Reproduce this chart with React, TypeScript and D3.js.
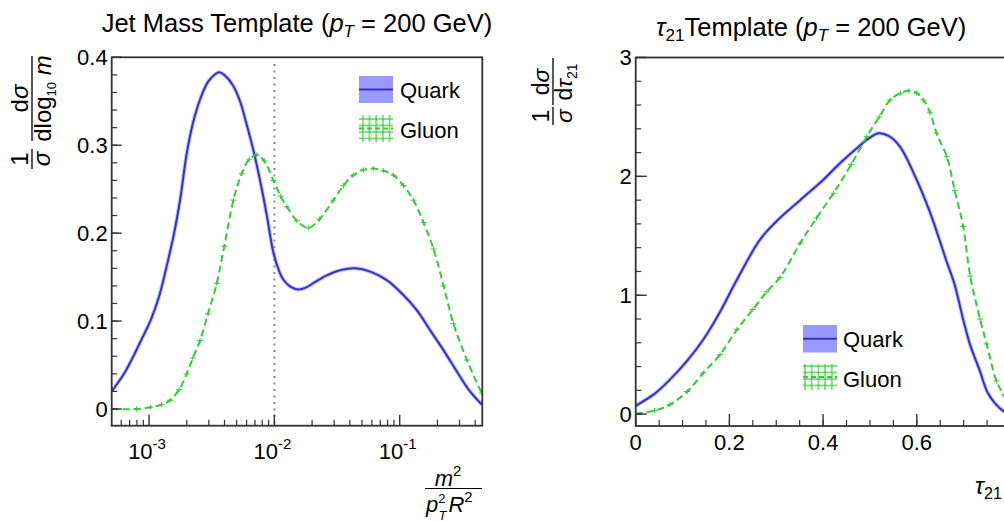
import React from "react";
import * as d3 from "d3";

// ---------- Jet mass template (x stored as log10(m^2 / pT^2 R^2)) ----------
const massLogX = [
  -3.298, -3.2, -3.125, -3.05, -2.99, -2.92, -2.86, -2.8, -2.75, -2.7, -2.65, -2.593,
  -2.53, -2.47, -2.44, -2.4, -2.33, -2.274, -2.22, -2.167, -2.11, -2.06, -2.008, -1.96,
  -1.928, -1.87, -1.808, -1.75, -1.68, -1.582, -1.47, -1.356, -1.23, -1.103, -0.98,
  -0.864, -0.75, -0.651, -0.55, -0.45, -0.345,
];
const massQuark = [
  0.02, 0.04, 0.06, 0.082, 0.1, 0.128, 0.162, 0.2, 0.24, 0.29, 0.325, 0.352,
  0.372, 0.381, 0.383, 0.38, 0.368, 0.35, 0.323, 0.294, 0.257, 0.22, 0.178, 0.156,
  0.147, 0.139, 0.136, 0.138, 0.144, 0.152, 0.158, 0.16, 0.156, 0.1466, 0.131,
  0.1125, 0.088, 0.067, 0.044, 0.022, 0.005,
];
const massGluonLogX = [
  -3.298, -3.1, -2.99, -2.9, -2.832, -2.76, -2.7, -2.65, -2.593, -2.53, -2.46, -2.4,
  -2.327, -2.26, -2.2, -2.14, -2.08, -2.008, -1.95, -1.9, -1.82, -1.729, -1.64, -1.529,
  -1.45, -1.37, -1.29, -1.21, -1.13, -1.05, -0.97, -0.89, -0.81, -0.73, -0.65, -0.571,
  -0.464, -0.345,
];
const massGluon = [
  0.0, 0.0, 0.002, 0.005, 0.01, 0.022, 0.04, 0.058, 0.078, 0.108, 0.143, 0.185,
  0.2375, 0.268, 0.284, 0.289, 0.282, 0.26, 0.242, 0.23, 0.214, 0.206, 0.216, 0.2375,
  0.254, 0.266, 0.272, 0.2735, 0.271, 0.266, 0.254, 0.2375, 0.212, 0.182, 0.14, 0.097,
  0.0557, 0.018,
];
const massYTicks = [0, 0.1, 0.2, 0.3, 0.4];
const massXTickExp = [-3, -2, -1];
const massCutX = 0.01;

// ---------- tau21 template ----------
const tauQuarkX = [
  0.0, 0.04, 0.073, 0.11, 0.144, 0.18, 0.216, 0.265, 0.3, 0.351, 0.4, 0.436, 0.47,
  0.493, 0.518, 0.54, 0.564, 0.593, 0.628, 0.664, 0.68, 0.7, 0.714, 0.735, 0.75, 0.765,
  0.785, 0.8, 0.85, 1.0,
];
const tauQuark = [
  0.07, 0.17, 0.29, 0.45, 0.626, 0.86, 1.13, 1.466, 1.62, 1.8, 1.97, 2.11, 2.23,
  2.307, 2.363, 2.34, 2.25, 2.03, 1.7, 1.28, 1.1, 0.78, 0.58, 0.36, 0.19, 0.1,
  0.025, 0.005, 0.0, 0.0,
];
const tauGluonX = [
  0.0, 0.04, 0.073, 0.11, 0.144, 0.18, 0.216, 0.25, 0.28, 0.308, 0.351, 0.386, 0.422,
  0.46, 0.493, 0.52, 0.543, 0.565, 0.582, 0.6, 0.614, 0.628, 0.642, 0.664, 0.681, 0.699,
  0.714, 0.735, 0.749, 0.77, 0.786, 0.8, 0.83, 0.87, 1.0,
];
const tauGluon = [
  0.004, 0.03, 0.08, 0.19, 0.346, 0.5, 0.71, 0.88, 1.03, 1.15, 1.438, 1.65, 1.858,
  2.1, 2.334, 2.5, 2.643, 2.7, 2.72, 2.7, 2.643, 2.54, 2.363, 2.166, 1.88, 1.578,
  1.16, 0.8, 0.59, 0.28, 0.16, 0.09, 0.03, 0.005, 0.0,
];
const tauYTicks = [0, 1, 2, 3];
const tauXTicks = [0, 0.2, 0.4, 0.6, 0.8, 1.0];
const tauXTickLabels = ["0", "0.2", "0.4", "0.6"];

const BLUE = "#3333cc";
const BAND = "#9999ff";
const GREEN = "#33cc33";
const FRAME = "#333";
const FONT = "'Liberation Sans', Arial, Helvetica, sans-serif";

export default function App() {
  const W = 1004;
  const H = 522;

  const xL = d3.scaleLog().domain([Math.pow(10, -3.298), Math.pow(10, -0.341)]).range([111.7, 482.3]);
  const yL = d3.scaleLinear().domain([-0.019, 0.4]).range([425.7, 57.3]);
  const xR = d3.scaleLinear().domain([0, 1]).range([635.7, 1104.2]);
  const yR = d3.scaleLinear().domain([-0.1, 3]).range([426, 57.5]);

  const curve = d3.curveCatmullRom.alpha(0.5);
  const lineL = d3
    .line<[number, number]>()
    .x((d) => xL(Math.pow(10, d[0])))
    .y((d) => yL(d[1]))
    .curve(curve);
  const lineR = d3
    .line<[number, number]>()
    .x((d) => xR(d[0]))
    .y((d) => yR(d[1]))
    .curve(curve);

  const mq = massLogX.map((x, i) => [x, massQuark[i]] as [number, number]);
  const mg = massGluonLogX.map((x, i) => [x, massGluon[i]] as [number, number]);
  const tq = tauQuarkX.map((x, i) => [x, tauQuark[i]] as [number, number]);
  const tg = tauGluonX.map((x, i) => [x, tauGluon[i]] as [number, number]);

  const [lx0, lx1] = xL.range();
  const [lyB, lyT] = yL.range();
  const yMinorL = d3.range(0, 0.4001, 0.02);
  const xMinorL: number[] = [];
  for (let e = -4; e <= 0; e++) {
    for (let k = 2; k <= 9; k++) {
      const v = k * Math.pow(10, e);
      if (v >= xL.domain()[0] && v <= xL.domain()[1]) xMinorL.push(v);
    }
  }
  const [rx0, rx1] = xR.range();
  const [ryB, ryT] = yR.range();
  const yMinorR = d3.range(0, 3.0001, 0.2);
  const xMinorR = d3.range(0, 1.0001, 0.05);

  return (
    <svg
      width={W}
      height={H}
      viewBox={`0 0 ${W} ${H}`}
      style={{ position: "absolute", left: 0, top: 0, background: "#fff", fontFamily: FONT }}
    >
      <defs>
        <clipPath id="clipL">
          <rect x={lx0} y={lyT} width={lx1 - lx0} height={lyB - lyT} />
        </clipPath>
        <clipPath id="clipR">
          <rect x={rx0} y={ryT} width={rx1 - rx0} height={ryB - ryT} />
        </clipPath>
        <pattern id="gluonHatch" patternUnits="userSpaceOnUse" width="6.7" height="6.5" x="0" y="0">
          <line x1="1" y1="0" x2="1" y2="6.5" stroke={GREEN} strokeWidth="1.2" />
          <line x1="0" y1="2" x2="6.7" y2="2" stroke={GREEN} strokeWidth="1.2" />
        </pattern>
      </defs>
      <rect x={0} y={0} width={W} height={H} fill="#fff" />

      {/* ================= LEFT PANEL ================= */}
      <text x={101.7} y={32} fontSize={25.5} fill="#000">
        Jet Mass Template (<tspan fontStyle="italic">p</tspan>
        <tspan fontSize={17} dy={5} fontStyle="italic">T</tspan>
        <tspan dy={-5}> = 200 GeV)</tspan>
      </text>

      <g clipPath="url(#clipL)">
        <line
          x1={xL(massCutX)}
          x2={xL(massCutX)}
          y1={64}
          y2={lyB}
          stroke="#888"
          strokeWidth={2}
          strokeDasharray="2,4.5"
        />
        <path d={lineL(mq) || ""} fill="none" stroke={BAND} strokeWidth={4} strokeOpacity={0.6} />
        <path d={lineL(mq) || ""} fill="none" stroke={BLUE} strokeWidth={2} />
        <path d={lineL(mg) || ""} fill="none" stroke={GREEN} strokeWidth={2} strokeDasharray="7,4" />
        {mg.map((d, i) => (
          <g key={i} stroke={GREEN} strokeWidth={1}>
            <line x1={xL(Math.pow(10, d[0])) - 3} x2={xL(Math.pow(10, d[0])) + 3} y1={yL(d[1])} y2={yL(d[1])} />
            <line x1={xL(Math.pow(10, d[0]))} x2={xL(Math.pow(10, d[0]))} y1={yL(d[1]) - 2.5} y2={yL(d[1]) + 2.5} />
          </g>
        ))}
      </g>

      <rect x={lx0} y={lyT} width={lx1 - lx0} height={lyB - lyT} fill="none" stroke={FRAME} strokeWidth={1.8} />
      {yMinorL.map((v, i) => (
        <line key={"ym" + i} x1={lx0} x2={lx0 + 5.5} y1={yL(v)} y2={yL(v)} stroke={FRAME} strokeWidth={1.2} />
      ))}
      {massYTicks.map((v) => (
        <g key={"yl" + v}>
          <line x1={lx0} x2={lx0 + 10} y1={yL(v)} y2={yL(v)} stroke={FRAME} strokeWidth={1.4} />
          <text x={lx0 - 4} y={yL(v)} dy="0.36em" textAnchor="end" fontSize={22} fill="#000">
            {v === 0 ? "0" : v.toFixed(1)}
          </text>
        </g>
      ))}
      {xMinorL.map((v, i) => (
        <line key={"xm" + i} x1={xL(v)} x2={xL(v)} y1={lyB} y2={lyB - 6} stroke={FRAME} strokeWidth={1.2} />
      ))}
      {massXTickExp.map((e) => (
        <g key={"xl" + e}>
          <line x1={xL(Math.pow(10, e))} x2={xL(Math.pow(10, e))} y1={lyB} y2={lyB - 11} stroke={FRAME} strokeWidth={1.4} />
          <text x={xL(Math.pow(10, e)) - 2} y={459} textAnchor="middle" fontSize={22} fill="#000">
            10<tspan fontSize={15} dy={-10}>{"-" + String(-e)}</tspan>
          </text>
        </g>
      ))}
      {/* left x label */}
      <text x={448} y={486} textAnchor="middle" fontSize={22} fill="#000">
        <tspan fontStyle="italic">m</tspan>
        <tspan fontSize={15} dy={-10}>2</tspan>
      </text>
      <line x1={425} x2={482} y1={488.5} y2={488.5} stroke="#000" strokeWidth={1.2} />
      <text x={426} y={512} fontSize={22} fill="#000">
        <tspan fontStyle="italic">p</tspan>
        <tspan fontSize={13} dy={-9}>2</tspan>
        <tspan fontSize={13} fontStyle="italic" dx={-7} dy={17}>T</tspan>
        <tspan fontStyle="italic" dx={2} dy={-8}>R</tspan>
        <tspan fontSize={15} dy={-10}>2</tspan>
      </text>
      {/* left y label (rotated) */}
      <g transform="translate(0,170) rotate(-90)" fill="#000">
        <text x={11} y={28} textAnchor="middle" fontSize={24}>1</text>
        <line x1={1} x2={21} y1={32} y2={32} stroke="#000" strokeWidth={1.3} />
        <text x={11} y={50} textAnchor="middle" fontSize={24} fontStyle="italic">σ</text>
        <text x={71.5} y={28} textAnchor="middle" fontSize={24}>
          d<tspan fontStyle="italic">σ</tspan>
        </text>
        <line x1={29} x2={114} y1={32} y2={32} stroke="#000" strokeWidth={1.3} />
        <text x={71.5} y={51} textAnchor="middle" fontSize={24}>
          dlog<tspan fontSize={13} dy={5}>10</tspan>
          <tspan dy={-5} fontStyle="italic"> m</tspan>
        </text>
      </g>

      {/* left legend */}
      <rect x={359} y={76} width={34} height={27} fill={BAND} />
      <line x1={359} x2={393} y1={89.5} y2={89.5} stroke={BLUE} strokeWidth={2} />
      <text x={400} y={98} fontSize={22} fill="#000">Quark</text>
      <rect x={359} y={115} width={34} height={27} fill="url(#gluonHatch)" />
      <line x1={359} x2={393} y1={128.5} y2={128.5} stroke={GREEN} strokeWidth={2} strokeDasharray="5,3" />
      <text x={400} y={138} fontSize={22} fill="#000">Gluon</text>

      {/* ================= RIGHT PANEL ================= */}
      <text x={656} y={36} fontSize={25.5} fill="#000">
        <tspan fontStyle="italic">τ</tspan>
        <tspan fontSize={17} dy={5}>21</tspan>
        <tspan dy={-5}>Template (</tspan>
        <tspan fontStyle="italic">p</tspan>
        <tspan fontSize={17} dy={5} fontStyle="italic">T</tspan>
        <tspan dy={-5}> = 200 GeV)</tspan>
      </text>

      <g clipPath="url(#clipR)">
        <path d={lineR(tq) || ""} fill="none" stroke={BAND} strokeWidth={4} strokeOpacity={0.6} />
        <path d={lineR(tq) || ""} fill="none" stroke={BLUE} strokeWidth={2} />
        <path d={lineR(tg) || ""} fill="none" stroke={GREEN} strokeWidth={2} strokeDasharray="7,4" />
        {tg.map((d, i) => (
          <g key={i} stroke={GREEN} strokeWidth={1}>
            <line x1={xR(d[0]) - 3} x2={xR(d[0]) + 3} y1={yR(d[1])} y2={yR(d[1])} />
            <line x1={xR(d[0])} x2={xR(d[0])} y1={yR(d[1]) - 2.5} y2={yR(d[1]) + 2.5} />
          </g>
        ))}
      </g>

      <rect x={rx0} y={ryT} width={rx1 - rx0} height={ryB - ryT} fill="none" stroke={FRAME} strokeWidth={1.8} />
      {yMinorR.map((v, i) => (
        <line key={"rym" + i} x1={rx0} x2={rx0 + 5.5} y1={yR(v)} y2={yR(v)} stroke={FRAME} strokeWidth={1.2} />
      ))}
      {tauYTicks.map((v) => (
        <g key={"ryl" + v}>
          <line x1={rx0} x2={rx0 + 11} y1={yR(v)} y2={yR(v)} stroke={FRAME} strokeWidth={1.4} />
          <text x={rx0 - 4} y={yR(v)} dy="0.36em" textAnchor="end" fontSize={22} fill="#000">
            {String(v)}
          </text>
        </g>
      ))}
      {xMinorR.map((v, i) => (
        <line key={"rxm" + i} x1={xR(v)} x2={xR(v)} y1={ryB} y2={ryB - 6} stroke={FRAME} strokeWidth={1.2} />
      ))}
      {tauXTicks.map((v) => (
        <line key={"rxM" + v} x1={xR(v)} x2={xR(v)} y1={ryB} y2={ryB - 12} stroke={FRAME} strokeWidth={1.4} />
      ))}
      {tauXTickLabels.map((lab) => (
        <text key={"rxl" + lab} x={xR(+lab)} y={450} textAnchor="middle" fontSize={22} fill="#000">
          {lab}
        </text>
      ))}
      {/* right x label */}
      <text x={975} y={494} fontSize={24} fill="#000">
        <tspan fontStyle="italic">τ</tspan>
        <tspan fontSize={16} dy={5}>21</tspan>
      </text>
      {/* right y label */}
      <g transform="translate(0,124) rotate(-90)" fill="#000">
        <text x={8} y={549} textAnchor="middle" fontSize={23}>1</text>
        <line x1={-1} x2={17} y1={553} y2={553} stroke="#000" strokeWidth={1.3} />
        <text x={8} y={572} textAnchor="middle" fontSize={23} fontStyle="italic">σ</text>
        <text x={42} y={549} textAnchor="middle" fontSize={23}>
          d<tspan fontStyle="italic">σ</tspan>
        </text>
        <line x1={19} x2={66} y1={553} y2={553} stroke="#000" strokeWidth={1.3} />
        <text x={42} y={572} textAnchor="middle" fontSize={23}>
          d<tspan fontStyle="italic">τ</tspan>
          <tspan fontSize={14} dy={5}>21</tspan>
        </text>
      </g>

      {/* right legend */}
      <rect x={803} y={325} width={34} height={27.5} fill={BAND} />
      <line x1={803} x2={837} y1={338.7} y2={338.7} stroke={BLUE} strokeWidth={2} />
      <text x={843} y={347} fontSize={22} fill="#000">Quark</text>
      <rect x={803} y={364} width={34} height={26} fill="url(#gluonHatch)" />
      <line x1={803} x2={837} y1={377} y2={377} stroke={GREEN} strokeWidth={2} strokeDasharray="5,3" />
      <text x={843} y={387} fontSize={22} fill="#000">Gluon</text>
    </svg>
  );
}
